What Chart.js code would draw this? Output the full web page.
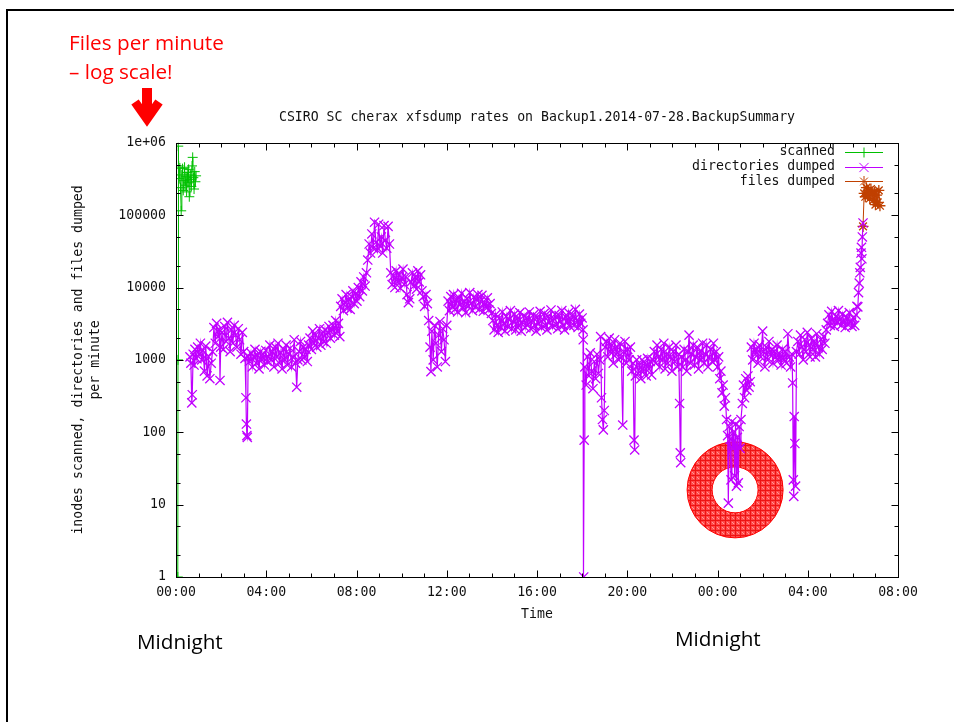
<!DOCTYPE html>
<html>
<head>
<meta charset="utf-8">
<script src="https://cdn.jsdelivr.net/npm/chart.js@4.4.1/dist/chart.umd.min.js"></script>
<style>
  body { margin: 0; background: #fff; }
  #wrap { position: relative; width: 954px; height: 722px; overflow: hidden; }
  #chart { position: absolute; left: 0; top: 0; }
  #border { position: absolute; left: 6px; top: 9px; right: -10px; bottom: -10px;
            border-top: 2px solid #000; border-left: 2px solid #000; }
  .note { position: absolute; font-family: 'Open Sans', 'Noto Sans', sans-serif; font-size: 20.7px;
          line-height: 29px; white-space: nowrap; }
  .red { color: #ff0000; }
  svg { position: absolute; left: 0; top: 0; }
</style>
</head>
<body>
<div id="wrap">
  <canvas id="chart" width="954" height="722"></canvas>
  <div id="border"></div>
  <div class="note red" style="left:69px; top:28px;">Files per minute<br>– log scale!</div>
  <svg width="954" height="722">
    <line x1="147" y1="88" x2="147" y2="112" stroke="#ff0000" stroke-width="10"/>
    <polyline points="135,102 147,119 159,102" fill="none" stroke="#ff0000" stroke-width="9" stroke-linejoin="miter"/>
  </svg>
  <div class="note" style="left:137px; top:627px;">Midnight</div>
  <div class="note" style="left:675px; top:624px;">Midnight</div>
</div>
<script>
// hours since midnight on 2014-07-28, rate per minute
const scannedSamples = [
  [0.08, 1], [0.09, 1000], [0.10, 900000], [0.12, 480000], [0.14, 320000], [0.17, 450000],
  [0.20, 240000], [0.23, 115000], [0.26, 360000], [0.29, 440000], [0.32, 220000], [0.35, 300000],
  [0.38, 460000], [0.41, 260000], [0.44, 340000], [0.47, 210000], [0.50, 390000], [0.53, 280000],
  [0.56, 430000], [0.59, 180000], [0.62, 310000], [0.65, 360000], [0.68, 250000], [0.71, 480000],
  [0.74, 630000], [0.77, 330000], [0.80, 230000], [0.83, 400000], [0.86, 290000], [0.89, 350000]
];

const dirSamples = [
  [0.62, 1100], [0.66, 900], [0.70, 255], [0.72, 330], [0.76, 1200], [0.80, 850], [0.84, 1400],
  [0.90, 1050], [0.96, 1500], [1.02, 1200], [1.08, 1700], [1.14, 1000], [1.20, 1350], [1.26, 700],
  [1.32, 1550], [1.38, 600], [1.44, 1100], [1.50, 550], [1.56, 900], [1.62, 1300],
  [1.68, 2800], [1.74, 1700], [1.80, 3200], [1.86, 2100], [1.92, 2600], [1.95, 520], [1.98, 1500],
  [2.04, 2400], [2.10, 1400], [2.16, 2900], [2.22, 1800], [2.28, 3300], [2.34, 2000], [2.40, 1300],
  [2.46, 2600], [2.52, 1700], [2.58, 3000], [2.64, 2200], [2.70, 1500], [2.76, 2700], [2.82, 1900],
  [2.88, 1200], [2.94, 2400], [3.00, 1300], [3.06, 1050], [3.10, 300], [3.12, 130], [3.14, 90],
  [3.16, 85], [3.20, 1100],
  [3.26, 950], [3.32, 1250], [3.38, 800], [3.44, 1100], [3.50, 1400], [3.56, 900], [3.62, 1150],
  [3.68, 750], [3.74, 1300], [3.80, 1000], [3.86, 1200], [3.92, 850], [3.98, 1350], [4.04, 950],
  [4.10, 1100], [4.16, 1600], [4.22, 1000], [4.28, 1300], [4.34, 800], [4.40, 1500], [4.46, 1100],
  [4.52, 1700], [4.58, 900], [4.64, 1250], [4.70, 750], [4.76, 1400], [4.82, 1000], [4.88, 1600],
  [4.94, 850], [5.00, 1200], [5.06, 1450], [5.12, 800], [5.18, 1100], [5.24, 1900], [5.30, 900],
  [5.35, 420], [5.40, 1000], [5.46, 1300], [5.52, 1800], [5.58, 1000], [5.64, 1500], [5.70, 1100],
  [5.76, 1400], [5.82, 950], [5.88, 1600],
  [5.94, 2000], [6.00, 1400], [6.06, 2500], [6.12, 1700], [6.18, 2200], [6.24, 1500], [6.30, 2000],
  [6.36, 2700], [6.42, 1600], [6.48, 2300], [6.54, 1800], [6.60, 2600], [6.66, 1700], [6.72, 2400],
  [6.78, 2900], [6.84, 2000], [6.90, 2600], [6.96, 3000], [7.02, 2200], [7.08, 3500], [7.14, 2500],
  [7.20, 3200], [7.26, 2100],
  [7.30, 5500], [7.36, 7000], [7.42, 4800], [7.48, 6200], [7.54, 8000], [7.60, 5200], [7.66, 6800],
  [7.72, 5000], [7.78, 7500], [7.84, 9000], [7.90, 6000], [7.96, 8200], [8.02, 6500], [8.08, 10000],
  [8.14, 7500], [8.20, 12000], [8.26, 9000], [8.32, 14000], [8.38, 10500], [8.44, 16000],
  [8.50, 24000], [8.56, 40000], [8.62, 30000], [8.68, 55000], [8.74, 35000], [8.80, 80000],
  [8.86, 42000], [8.92, 33000], [8.98, 75000], [9.04, 38000], [9.10, 50000], [9.16, 30000],
  [9.22, 72000], [9.28, 45000], [9.34, 35000], [9.40, 70000], [9.46, 40000],
  [9.52, 16000], [9.58, 11000], [9.64, 14500], [9.70, 10000], [9.76, 17000], [9.82, 12000],
  [9.88, 15000], [9.94, 9800], [10.00, 13500], [10.06, 18000], [10.12, 11000], [10.18, 14000],
  [10.24, 8000], [10.30, 6200], [10.36, 7000], [10.42, 12000], [10.48, 16000], [10.54, 10500],
  [10.60, 14000], [10.66, 9500], [10.72, 17000], [10.78, 12000], [10.84, 15000], [10.90, 9000],
  [10.96, 7500], [11.02, 5500], [11.08, 8000], [11.14, 6000],
  [11.20, 3500], [11.26, 1500], [11.30, 690], [11.34, 2500], [11.40, 1000], [11.46, 3000],
  [11.52, 1700], [11.58, 800], [11.64, 2200], [11.70, 3400], [11.76, 1300], [11.82, 2700],
  [11.88, 1900], [11.94, 950], [12.00, 3000],
  [12.06, 6500], [12.12, 4800], [12.18, 7500], [12.24, 5500], [12.30, 8000], [12.36, 5000],
  [12.42, 6800], [12.48, 4600], [12.54, 7200], [12.60, 5800], [12.66, 8300], [12.72, 5200],
  [12.78, 6500], [12.84, 4500], [12.90, 7000], [12.96, 5600], [13.02, 8500], [13.08, 6000],
  [13.14, 4800], [13.20, 7400], [13.26, 5400], [13.32, 6800], [13.38, 8000], [13.44, 5000],
  [13.50, 6500], [13.56, 7800], [13.62, 4700], [13.68, 6200], [13.74, 5500], [13.80, 7200],
  [13.86, 4900], [13.92, 6000], [13.98, 4400],
  [14.04, 3500], [14.10, 2600], [14.16, 4200], [14.22, 3000], [14.28, 2400], [14.34, 3800],
  [14.40, 2800], [14.46, 4600], [14.52, 3200], [14.58, 2500], [14.64, 4000], [14.70, 2900],
  [14.76, 3600], [14.82, 4800], [14.88, 2700], [14.94, 3400], [15.00, 4300], [15.06, 2600],
  [15.12, 3700], [15.18, 3000], [15.24, 4500], [15.30, 2500], [15.36, 3300], [15.42, 4100],
  [15.48, 2800], [15.54, 3800], [15.60, 3100], [15.66, 4600], [15.72, 2700], [15.78, 3500],
  [15.84, 4200], [15.90, 3000], [15.96, 2500], [16.02, 3900], [16.08, 3200], [16.14, 4700],
  [16.20, 2800], [16.26, 3600], [16.32, 4400], [16.38, 3000], [16.44, 2600], [16.50, 4000],
  [16.56, 3300], [16.62, 4900], [16.68, 2900], [16.74, 3700], [16.80, 4300], [16.86, 3100],
  [16.92, 2700], [16.98, 4100], [17.04, 3400], [17.10, 4800], [17.16, 3000], [17.22, 2600],
  [17.28, 3900], [17.34, 3300], [17.40, 4500], [17.46, 2900], [17.52, 3600], [17.58, 4200],
  [17.64, 3000], [17.70, 5000], [17.76, 3500], [17.82, 2800], [17.88, 4300], [17.94, 3200],
  [18.00, 3800], [18.04, 2600], [18.05, 1900], [18.07, 1], [18.09, 78],
  [18.12, 800], [18.18, 450], [18.24, 1100], [18.30, 600], [18.36, 1250], [18.42, 700],
  [18.48, 400], [18.54, 950], [18.60, 550], [18.66, 1200], [18.72, 650], [18.78, 1000],
  [18.82, 2100], [18.86, 300], [18.90, 150], [18.94, 108], [18.98, 200], [19.02, 1500],
  [19.08, 1800], [19.14, 1100], [19.20, 2000], [19.26, 1300], [19.32, 1600], [19.38, 900],
  [19.44, 1900], [19.50, 1200], [19.56, 1500], [19.62, 1000], [19.68, 1700], [19.74, 1100],
  [19.80, 126], [19.84, 1300], [19.90, 1800], [19.96, 900], [20.02, 1400], [20.08, 1000],
  [20.14, 1500], [20.20, 700], [20.26, 900], [20.30, 78], [20.33, 57], [20.36, 600],
  [20.42, 1000], [20.48, 650], [20.54, 850], [20.60, 550], [20.66, 1000], [20.72, 700],
  [20.78, 900], [20.84, 600], [20.90, 1050], [20.96, 750], [21.02, 950], [21.08, 620],
  [21.14, 1000], [21.20, 1300], [21.26, 900], [21.32, 1600], [21.38, 1100], [21.44, 800],
  [21.50, 1400], [21.56, 1000], [21.62, 1700], [21.68, 750], [21.74, 1200], [21.80, 900],
  [21.86, 1500], [21.92, 1100], [21.98, 700], [22.04, 1300], [22.10, 950], [22.16, 1600],
  [22.22, 800], [22.28, 1200], [22.32, 250], [22.35, 52], [22.37, 38], [22.40, 1100],
  [22.46, 800], [22.52, 1400], [22.58, 1000], [22.64, 700], [22.70, 1300], [22.74, 2200],
  [22.80, 900], [22.86, 1200], [22.92, 1600], [22.98, 850], [23.04, 1100], [23.10, 1500],
  [23.16, 750], [23.22, 1300], [23.28, 1000], [23.34, 1700], [23.40, 900], [23.46, 1200],
  [23.52, 1600], [23.58, 800], [23.64, 1100], [23.70, 1400], [23.76, 950], [23.82, 1700],
  [23.88, 1000], [23.94, 1300], [24.00, 800],
  [24.05, 1100], [24.10, 550], [24.15, 700], [24.20, 350], [24.25, 450], [24.30, 230], [24.35, 300],
  [24.40, 150], [24.45, 90], [24.48, 10.5], [24.52, 120], [24.56, 80], [24.60, 22], [24.64, 140],
  [24.68, 60], [24.72, 100], [24.76, 25], [24.80, 130], [24.84, 18], [24.88, 85], [24.92, 20],
  [24.96, 120], [25.00, 60], [25.04, 150], [25.10, 250], [25.15, 450], [25.20, 300], [25.25, 550],
  [25.30, 380], [25.35, 600], [25.40, 420], [25.45, 500],
  [25.50, 1500], [25.56, 1000], [25.62, 1700], [25.68, 1200], [25.74, 1400], [25.80, 900],
  [25.86, 1600], [25.92, 1100], [26.00, 2500], [26.04, 1300], [26.10, 800], [26.16, 1500],
  [26.22, 1000], [26.28, 1800], [26.34, 1200], [26.40, 1400], [26.46, 900], [26.52, 1300],
  [26.58, 1100], [26.64, 1600], [26.70, 1000], [26.76, 1200], [26.82, 850], [26.88, 1400],
  [26.94, 1000], [27.00, 1300], [27.06, 900], [27.12, 2300], [27.18, 1100], [27.24, 800],
  [27.30, 1200], [27.33, 480], [27.36, 22], [27.38, 13], [27.40, 165], [27.43, 70], [27.46, 18],
  [27.50, 1300], [27.56, 1800], [27.62, 1200], [27.68, 2200], [27.74, 1500], [27.80, 1000],
  [27.86, 1900], [27.92, 1300], [27.98, 2400], [28.04, 1600], [28.10, 1100], [28.16, 2000],
  [28.22, 1400], [28.28, 1800], [28.34, 1100], [28.40, 2300], [28.46, 1500], [28.52, 1200],
  [28.58, 1900], [28.64, 1400], [28.70, 2100], [28.76, 1700], [28.82, 2600],
  [28.88, 3200], [28.94, 4200], [29.00, 3000], [29.06, 4700], [29.12, 3500], [29.18, 2900],
  [29.24, 4000], [29.30, 3300], [29.36, 4800], [29.42, 3600], [29.48, 3000], [29.54, 4300],
  [29.60, 3400], [29.66, 2800], [29.72, 3900], [29.78, 3100], [29.84, 4500], [29.90, 3300],
  [29.96, 2900], [30.02, 3800], [30.08, 3000], [30.14, 4200], [30.18, 5500],
  [30.22, 5400], [30.25, 8500], [30.28, 11500], [30.31, 16000], [30.33, 19000], [30.36, 30000],
  [30.38, 36000], [30.40, 25000], [30.42, 50000], [30.45, 78000]
];

const fileSamples = [
  [30.45, 70000], [30.50, 200000], [30.55, 180000], [30.60, 240000], [30.65, 190000],
  [30.70, 220000], [30.75, 170000], [30.80, 230000], [30.85, 200000], [30.90, 160000],
  [30.95, 210000], [31.00, 140000], [31.05, 190000], [31.10, 150000], [31.15, 220000],
  [31.20, 135000]
];

const hourTicks = [0, 4, 8, 12, 16, 20, 24, 28, 32];
const hourLabels = ['00:00', '04:00', '08:00', '12:00', '16:00', '20:00', '00:00', '04:00', '08:00'];
const decades = [1, 10, 100, 1000, 10000, 100000, 1000000];
const decadeLabels = ['1', '10', '100', '1000', '10000', '100000', '1e+06'];
const minorSteps = [2, 5];
const ringAt = { hour: 24.78, rate: 16 };

const toPoints = (samples) => samples.map(([x, y]) => ({ x, y }));

// pattern for the hatched ring
const makeHatch = () => {
    const c = document.createElement('canvas');
    c.width = 5; c.height = 5;
    const g = c.getContext('2d');
    g.fillStyle = '#ff4a4a';
    g.fillRect(0, 0, 5, 5);
    g.fillStyle = '#ee1414';
    g.fillRect(0, 0, 5, 1);
    g.fillRect(0, 0, 1, 5);
    g.fillStyle = '#ff9a9a';
    g.fillRect(2, 2, 1, 1);
    g.fillRect(3, 3, 1, 1);
    return c;
};

const line = (ctx, x1, y1, x2, y2) => {
    ctx.beginPath();
    ctx.moveTo(x1, y1);
    ctx.lineTo(x2, y2);
    ctx.stroke();
};

const gnuFrame = {
    id: 'gnuFrame',
    beforeDatasetsDraw(chart) {
        const { ctx, scales } = chart;
        const cx = scales.x.getPixelForValue(ringAt.hour);
        const cy = scales.y.getPixelForValue(ringAt.rate);
        ctx.save();
        ctx.beginPath();
        ctx.arc(cx, cy, 48, 0, Math.PI * 2);
        ctx.arc(cx, cy, 23, 0, Math.PI * 2, true);
        ctx.fillStyle = ctx.createPattern(makeHatch(), 'repeat');
        ctx.fill();
        ctx.strokeStyle = '#ff0000';
        ctx.lineWidth = 1;
        ctx.beginPath(); ctx.arc(cx, cy, 48, 0, Math.PI * 2); ctx.stroke();
        ctx.beginPath(); ctx.arc(cx, cy, 23, 0, Math.PI * 2); ctx.stroke();
        ctx.restore();
    },
    afterDatasetsDraw(chart) {
        const { ctx, chartArea, scales } = chart;
        const left = Math.round(chartArea.left) + 0.5;
        const right = Math.round(chartArea.right) + 0.5;
        const top = Math.round(chartArea.top) + 0.5;
        const bottom = Math.round(chartArea.bottom) + 0.5;
        ctx.save();
        ctx.strokeStyle = '#000';
        ctx.lineWidth = 1;
        ctx.strokeRect(left, top, right - left, bottom - top);

        // x ticks: major at labels, minor every hour
        for (let h = hourTicks[0]; h <= hourTicks[hourTicks.length - 1]; h++) {
            const px = Math.round(scales.x.getPixelForValue(h)) + 0.5;
            const len = hourTicks.includes(h) ? 7 : 4;
            line(ctx, px, bottom, px, bottom - len);
            line(ctx, px, top, px, top + len);
        }
        // y ticks: decades plus 2x and 5x
        decades.forEach((d, i) => {
            const py = Math.round(scales.y.getPixelForValue(d)) + 0.5;
            line(ctx, left, py, left + 7, py);
            line(ctx, right, py, right - 7, py);
            if (i < decades.length - 1) {
                minorSteps.forEach((m) => {
                    const my = Math.round(scales.y.getPixelForValue(d * m)) + 0.5;
                    line(ctx, left, my, left + 4, my);
                    line(ctx, right, my, right - 4, my);
                });
            }
        });

        // key, gnuplot style: text on the left, sample on the right
        ctx.font = "13.2px 'DejaVu Sans Mono', monospace";
        ctx.textAlign = 'right';
        ctx.textBaseline = 'middle';
        chart.data.datasets.forEach((ds, i) => {
            const y = chartArea.top + 9 + i * 14.7;
            ctx.fillStyle = '#111';
            ctx.fillText(ds.label, chartArea.right - 63, y);
            ctx.strokeStyle = ds.borderColor;
            line(ctx, chartArea.right - 53, Math.round(y) + 0.5, chartArea.right - 15, Math.round(y) + 0.5);
            Chart.helpers.drawPoint(ctx, {
                pointStyle: ds.pointStyle, radius: ds.pointRadius, borderWidth: 1, rotation: 0
            }, chartArea.right - 34, Math.round(y) + 0.5);
        });
        ctx.restore();
    }
};

Chart.defaults.font.family = "'DejaVu Sans Mono', monospace";
Chart.defaults.font.size = 13.2;
Chart.defaults.color = '#111';

const ctx = document.getElementById('chart').getContext('2d');
new Chart(ctx, {
    type: 'line',
    data: {
        datasets: [
            {
                label: 'scanned',
                data: toPoints(scannedSamples),
                borderColor: '#00c000',
                backgroundColor: '#00c000',
                pointStyle: 'cross',
                pointRadius: 5,
                pointBorderWidth: 1,
                borderWidth: 1,
            },
            {
                label: 'directories dumped',
                data: toPoints(dirSamples),
                borderColor: '#c000ff',
                backgroundColor: '#c000ff',
                pointStyle: 'crossRot',
                pointRadius: 6.5,
                pointBorderWidth: 1.3,
                borderWidth: 1.2,
            },
            {
                label: 'files dumped',
                data: toPoints(fileSamples),
                borderColor: '#c04000',
                backgroundColor: '#c04000',
                pointStyle: 'star',
                pointRadius: 5.5,
                pointBorderWidth: 1.3,
                borderWidth: 1,
            },
        ],
    },
    options: {
        responsive: false,
        animation: false,
        devicePixelRatio: 1,
        layout: { padding: { left: 0, right: 56, top: 0, bottom: 95 } },
        plugins: {
            legend: { display: false },
            tooltip: { enabled: false },
            title: {
                display: true,
                fullSize: false,
                text: 'CSIRO SC cherax xfsdump rates on Backup1.2014-07-28.BackupSummary',
                font: { size: 13.2, weight: 'normal', lineHeight: 1.2 },
                color: '#111',
                padding: { top: 110, bottom: 17 },
            },
        },
        scales: {
            x: {
                type: 'linear',
                min: 0,
                max: 32,
                grid: { display: false, drawTicks: false },
                border: { display: false },
                afterBuildTicks: (axis) => { axis.ticks = hourTicks.map((v) => ({ value: v })); },
                afterFit: (axis) => { axis.height = 50; },
                ticks: {
                    autoSkip: false,
                    maxRotation: 0,
                    padding: 8,
                    callback: (v) => hourLabels[hourTicks.indexOf(v)],
                },
                title: {
                    display: true,
                    text: 'Time',
                    font: { size: 13.2, lineHeight: 1.2 },
                    padding: { top: 0, bottom: 5 },
                },
            },
            y: {
                type: 'logarithmic',
                min: 1,
                max: 1000000,
                grid: { display: false, drawTicks: false },
                border: { display: false },
                afterBuildTicks: (axis) => { axis.ticks = decades.map((v) => ({ value: v })); },
                afterFit: (axis) => { axis.width = 176; },
                ticks: {
                    padding: 10,
                    callback: (v) => decadeLabels[decades.indexOf(v)],
                },
                title: {
                    display: true,
                    text: ['inodes scanned, directories and files dumped', 'per minute'],
                    font: { size: 13.2, lineHeight: 1.3 },
                    padding: { top: 70, bottom: 0 },
                },
            },
        },
    },
    plugins: [gnuFrame],
});
</script>
</body>
</html>
